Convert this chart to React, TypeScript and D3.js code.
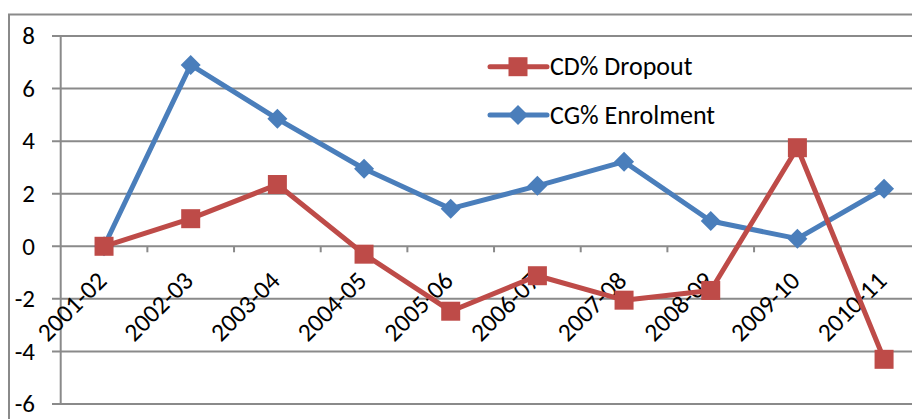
import React, { useEffect, useRef } from 'react';
import * as d3 from 'd3';

const categories = ['2001-02', '2002-03', '2003-04', '2004-05', '2005-06', '2006-07', '2007-08', '2008-09', '2009-10', '2010-11'];
const dropout = [0, 1.05, 2.35, -0.3, -2.47, -1.12, -2.05, -1.68, 3.75, -4.3];
const enrolment = [0, 6.9, 4.85, 2.95, 1.43, 2.3, 3.22, 0.96, 0.29, 2.19];
const yTicks = [-6, -4, -2, 0, 2, 4, 6, 8];

const RED = '#BE4B48';
const BLUE = '#4A7EBB';
const GRID = '#8a8a8a';
const FONT = 'Carlito, "Open Sans", sans-serif';

const App: React.FC = () => {
  const svgRef = useRef<SVGSVGElement>(null);

  useEffect(() => {
    if (!svgRef.current) return;
    const svg = d3.select(svgRef.current);
    svg.selectAll('*').remove();

    const left = 60.7;
    const step = 86.67;
    const x = d3.scaleBand<string>().domain(categories).range([left, left + step * categories.length]);
    const y = d3.scaleLinear().domain([-6, 8]).range([404, 36]);
    const cx = (c: string) => (x(c) as number) + x.bandwidth() / 2;

    // outer chart border
    svg.append('path')
      .attr('d', 'M9,419 V14.5 H912')
      .attr('fill', 'none')
      .attr('stroke', GRID)
      .attr('stroke-width', 2);

    // gridlines + y ticks
    svg.append('g').selectAll('line')
      .data(yTicks)
      .enter().append('line')
      .attr('x1', 52).attr('x2', 912)
      .attr('y1', d => y(d)).attr('y2', d => y(d))
      .attr('stroke', GRID).attr('stroke-width', 2);

    svg.append('line')
      .attr('x1', left).attr('x2', left)
      .attr('y1', y(8)).attr('y2', y(-6))
      .attr('stroke', GRID).attr('stroke-width', 2);

    svg.append('g').selectAll('text')
      .data(yTicks)
      .enter().append('text')
      .attr('x', 35)
      .attr('y', d => y(d))
      .attr('dy', '0.33em')
      .attr('text-anchor', 'end')
      .style('font-family', FONT)
      .style('font-size', '25px')
      .style('fill', '#000')
      .text(d => d);

    // x ticks on zero line
    svg.append('g').selectAll('line')
      .data(categories.slice(1))
      .enter().append('line')
      .attr('x1', d => x(d) as number).attr('x2', d => x(d) as number)
      .attr('y1', y(0)).attr('y2', y(0) + 6)
      .attr('stroke', GRID).attr('stroke-width', 2);

    svg.append('g').selectAll('text')
      .data(categories)
      .enter().append('text')
      .attr('transform', d => `translate(${cx(d) + 4},${y(0) + 36}) rotate(-45)`)
      .attr('text-anchor', 'end')
      .style('font-family', FONT)
      .style('font-size', '25.5px')
      .style('fill', '#000')
      .text(d => d);

    const line = d3.line<number>()
      .x((_, i) => cx(categories[i]))
      .y(d => y(d));

    // enrolment (blue diamonds)
    svg.append('path')
      .datum(enrolment)
      .attr('d', line)
      .attr('fill', 'none')
      .attr('stroke', BLUE)
      .attr('stroke-width', 5)
      .attr('stroke-linejoin', 'round');

    const diamond = (r: number) => `M0,${-r} L${r},0 L0,${r} L${-r},0 Z`;

    svg.append('g').selectAll('path')
      .data(enrolment)
      .enter().append('path')
      .attr('d', diamond(10))
      .attr('transform', (d, i) => `translate(${cx(categories[i])},${y(d)})`)
      .attr('fill', BLUE);

    // dropout (red squares)
    svg.append('path')
      .datum(dropout)
      .attr('d', line)
      .attr('fill', 'none')
      .attr('stroke', RED)
      .attr('stroke-width', 5)
      .attr('stroke-linejoin', 'round');

    svg.append('g').selectAll('rect')
      .data(dropout)
      .enter().append('rect')
      .attr('x', (d, i) => cx(categories[i]) - 9.5)
      .attr('y', d => y(d) - 9.5)
      .attr('width', 19).attr('height', 19)
      .attr('fill', RED);

    // legend
    const legend = [
      { name: 'CD% Dropout', color: RED, marker: 'square', y: 66.7 },
      { name: 'CG% Enrolment', color: BLUE, marker: 'diamond', y: 115 },
    ];
    const lg = svg.append('g').selectAll('g')
      .data(legend)
      .enter().append('g')
      .attr('transform', d => `translate(0,${d.y})`);

    lg.append('line')
      .attr('x1', 490).attr('x2', 547)
      .attr('y1', 0).attr('y2', 0)
      .attr('stroke', d => d.color)
      .attr('stroke-width', 5)
      .attr('stroke-linecap', 'round');

    lg.append('path')
      .attr('d', d => d.marker === 'square' ? 'M-9.5,-9.5 h19 v19 h-19 Z' : diamond(10))
      .attr('transform', 'translate(518,0)')
      .attr('fill', d => d.color);

    lg.append('text')
      .attr('x', 550)
      .attr('y', 0)
      .attr('dy', '0.33em')
      .style('font-family', FONT)
      .style('font-size', '26px')
      .style('fill', '#000')
      .text(d => d.name);
  }, []);

  return (
    <svg ref={svgRef} width={912} height={419}
      style={{ position: 'absolute', left: 0, top: 0, background: '#fff' }} />
  );
};

export default App;
